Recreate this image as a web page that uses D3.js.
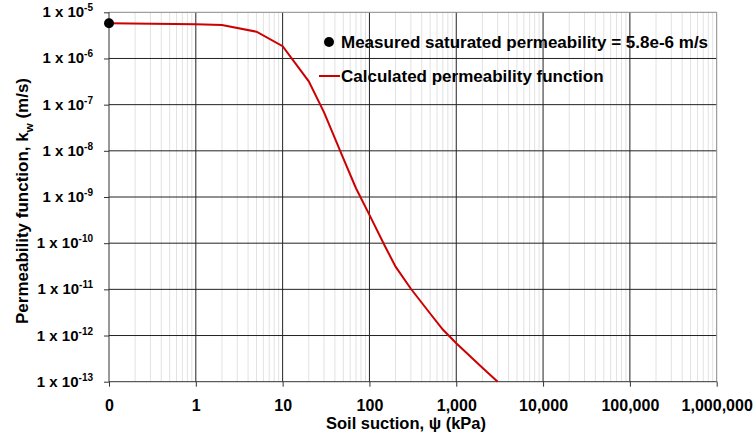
<!DOCTYPE html>
<html>
<head>
<meta charset="utf-8">
<script src="https://cdn.jsdelivr.net/npm/d3@7"></script>
<style>
  body { margin: 0; background: #fff; }
  svg text { font-family: "Liberation Sans", Arial, sans-serif; font-weight: bold; }
</style>
</head>
<body>
<div id="paper"></div>
<script>
// soil water permeability function
var suction = [0.1, 1, 2, 5, 10, 20, 30, 50, 70, 100, 150, 200, 300, 500, 700, 1000, 2000, 3000]
var permeability = [5.8e-6, 5.5e-6, 5.3e-6, 3.8e-6, 1.84e-6, 3.2e-7, 6.8e-8, 6.9e-9, 1.55e-9, 4.1e-10,
  8.8e-11, 3.1e-11, 1.03e-11, 3.0e-12, 1.35e-12, 6.8e-13, 2.0e-13, 1.0e-13]

var measured = [{ x: 0.1, y: 5.8e-6 }]

var xTicks = [0.1, 1, 10, 100, 1000, 10000, 100000, 1000000]
var xTickLabels = ['0', '1', '10', '100', '1,000', '10,000', '100,000', '1,000,000']
var yTicks = [1e-5, 1e-6, 1e-7, 1e-8, 1e-9, 1e-10, 1e-11, 1e-12, 1e-13]
var yExponents = ['-5', '-6', '-7', '-8', '-9', '-10', '-11', '-12', '-13']

var legendLabels = ['Measured saturated permeability = 5.8e-6 m/s', 'Calculated permeability function']

var width = 756, height = 436
var margin = { top: 12.3, right: 39.3, bottom: 54.3, left: 109 }

var svg = d3.select('#paper')
  .append('svg')
  .attr('width', width)
  .attr('height', height)

var x = d3.scaleLog()
  .domain([0.1, 1e6])
  .range([margin.left, width - margin.right])

var y = d3.scaleLog()
  .domain([1e-13, 1e-5])
  .range([height - margin.bottom, margin.top])

// minor vertical grid
var minor = []
xTicks.slice(0, -1).forEach(function(d) {
  for (var k = 2; k < 10; k++) minor.push(d * k)
})

var grid = svg.append('g')
grid.selectAll('.minor')
  .data(minor)
  .join('line')
  .attr('x1', d => x(d)).attr('x2', d => x(d))
  .attr('y1', margin.top).attr('y2', height - margin.bottom)
  .attr('stroke', '#e2e2e2')
  .attr('stroke-width', 1)

grid.selectAll('.vmajor')
  .data(xTicks.slice(1, -1))
  .join('line')
  .attr('x1', d => x(d)).attr('x2', d => x(d))
  .attr('y1', margin.top).attr('y2', height - margin.bottom)
  .attr('stroke', '#222')
  .attr('stroke-width', 1)

grid.selectAll('.hmajor')
  .data(yTicks.slice(1, -1))
  .join('line')
  .attr('x1', margin.left).attr('x2', width - margin.right)
  .attr('y1', d => y(d)).attr('y2', d => y(d))
  .attr('stroke', '#222')
  .attr('stroke-width', 1)

// top and right frame
svg.append('path')
  .attr('d', 'M' + margin.left + ',' + y(1e-5) + 'H' + x(1e6) + 'V' + y(1e-13))
  .attr('fill', 'none')
  .attr('stroke', '#888')
  .attr('stroke-width', 1)

// axes
var xAxis = svg.append('g')
  .attr('transform', 'translate(0,' + y(1e-13) + ')')
  .call(d3.axisBottom(x).tickValues(xTicks).tickSize(5).tickFormat((d, i) => xTickLabels[i]))
xAxis.select('.domain').attr('stroke', '#333').attr('d', 'M' + x(0.1) + ',0H' + x(1e6))
xAxis.selectAll('.tick line').attr('stroke', '#333')
xAxis.selectAll('.tick text')
  .attr('dy', 0).attr('y', 29)
  .style('font-size', '16px')
  .attr('fill', '#000')

var yAxis = svg.append('g')
  .attr('transform', 'translate(' + margin.left + ',0)')
  .call(d3.axisLeft(y).tickValues(yTicks).tickSize(5).tickFormat(''))
yAxis.select('.domain').attr('stroke', '#333').attr('d', 'M0,' + y(1e-5) + 'V' + y(1e-13))
yAxis.selectAll('.tick line').attr('stroke', '#333')

var yLab = svg.append('g')
  .selectAll('text')
  .data(yTicks)
  .join('text')
  .attr('x', 93)
  .attr('y', d => y(d) + 5)
  .attr('text-anchor', 'end')
  .attr('font-size', 15)
  .attr('fill', '#000')
yLab.append('tspan').text('1 x 10')
yLab.append('tspan')
  .attr('dy', -6)
  .attr('font-size', 10)
  .text((d, i) => yExponents[i])

// axis titles
svg.append('text')
  .attr('x', 406)
  .attr('y', 429)
  .attr('text-anchor', 'middle')
  .attr('font-size', 16.5)
  .attr('fill', '#000')
  .text('Soil suction, ψ (kPa)')

var yt = svg.append('text')
  .attr('transform', 'translate(28,201) rotate(-90)')
  .attr('text-anchor', 'middle')
  .attr('font-size', 17)
  .attr('fill', '#000')
yt.append('tspan').text('Permeability function, k')
yt.append('tspan').attr('dy', 5).attr('font-size', 11.5).text('w')
yt.append('tspan').attr('dy', -5).text(' (m/s)')

// calculated curve
var line = d3.line()
  .x(d => x(d[0]))
  .y(d => y(d[1]))

svg.append('path')
  .datum(d3.zip(suction, permeability))
  .attr('d', line)
  .attr('fill', 'none')
  .attr('stroke', '#cc0000')
  .attr('stroke-width', 2)

// measured point
svg.selectAll('.pt')
  .data(measured)
  .join('circle')
  .attr('cx', d => x(d.x))
  .attr('cy', d => y(d.y))
  .attr('r', 5)
  .attr('fill', '#000')

// legend
var lg = svg.append('g')
lg.append('circle').attr('cx', 329).attr('cy', 42).attr('r', 5).attr('fill', '#000')
lg.append('line').attr('x1', 319).attr('x2', 340).attr('y1', 76).attr('y2', 76)
  .attr('stroke', '#cc0000').attr('stroke-width', 2)
lg.selectAll('text')
  .data(legendLabels)
  .join('text')
  .attr('x', 341)
  .attr('y', (d, i) => 48 + i * 34)
  .attr('font-size', 17)
  .attr('fill', '#000')
  .text(d => d)
</script>
</body>
</html>
